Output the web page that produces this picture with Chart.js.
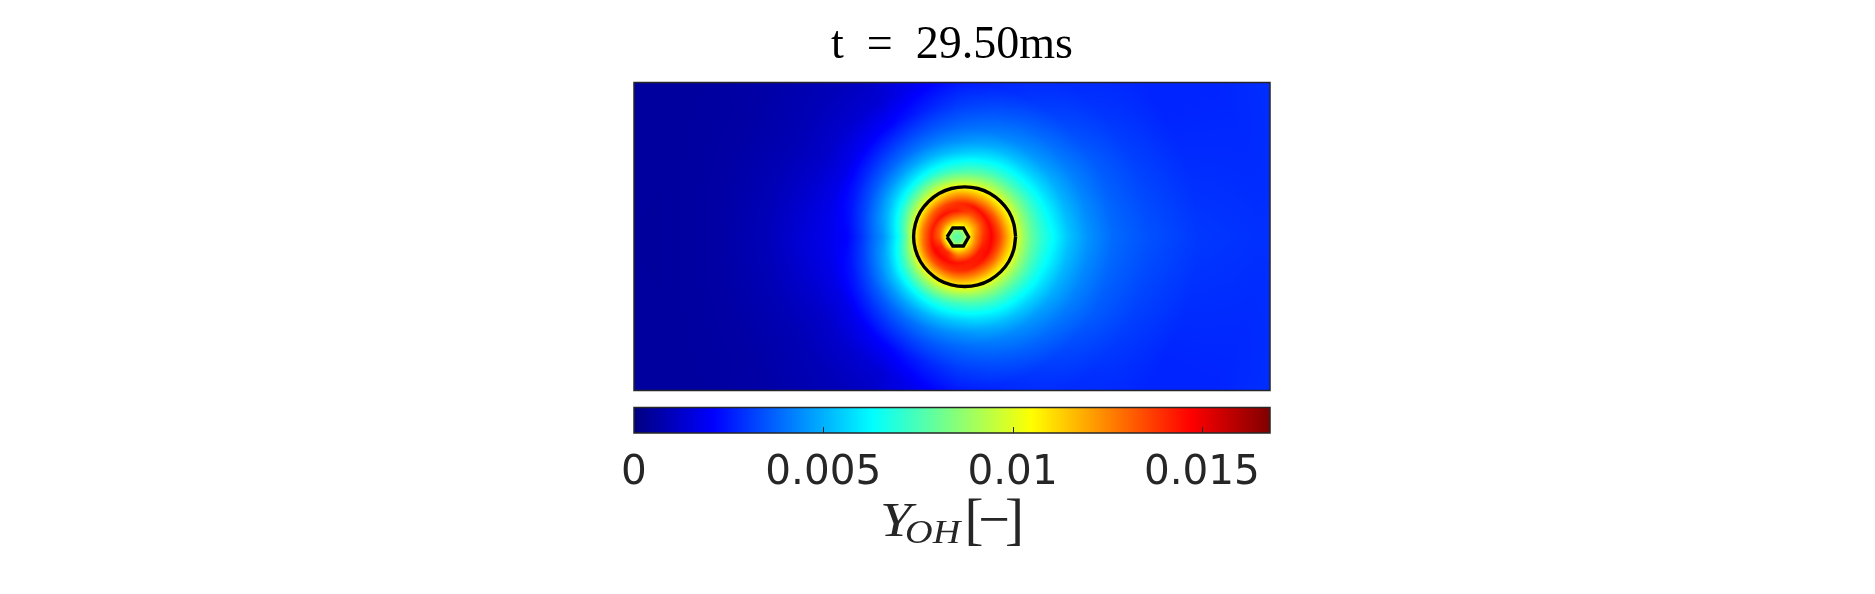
<!DOCTYPE html>
<html>
<head>
<meta charset="utf-8">
<title>Y_OH field</title>
<script src="https://cdn.jsdelivr.net/npm/chart.js@4"></script>
<style>
html, body { margin: 0; padding: 0; background: #fff; }
canvas { display: block; }
</style>
</head>
<body>
<canvas id="field-chart" width="1875" height="594"></canvas>
<script>
const titleText = "t = 29.50ms";
const barTicks = [0, 0.005, 0.01, 0.015];
const barTickLabels = ["0", "0.005", "0.01", "0.015"];
const barMax = 0.0168;

// domain size in mm
const domainX = 31.8;
const domainY = 15.4;

// flame front and inner contour, mm
const flameX = [19.08, 18.99, 18.74, 18.33, 17.80, 17.19, 16.53, 15.87, 15.25, 14.73, 14.32, 14.07, 13.98, 14.07, 14.32, 14.73, 15.25, 15.87, 16.53, 17.19, 17.80, 18.33, 18.74, 18.99, 19.08];
const flameY = [7.69, 8.33, 8.94, 9.45, 9.85, 10.10, 10.18, 10.10, 9.85, 9.45, 8.94, 8.33, 7.69, 7.05, 6.45, 5.93, 5.53, 5.28, 5.20, 5.28, 5.53, 5.93, 6.45, 7.05, 7.69];
const coreX = [15.65, 15.94, 16.47, 16.73, 16.47, 15.94, 15.65];
const coreY = [7.675, 8.125, 8.125, 7.675, 7.225, 7.225, 7.675];

const rayOriginX = 16.175;
const rayOriginY = 7.675;
const rayRadii = [0, 0.3, 0.55, 0.9, 1.3, 1.7, 2.1, 2.5, 2.9, 3.3, 3.7, 4.2, 4.8, 5.5, 6.5, 7.75, 9.5, 12, 15, 18];
const ray000 = [7.56, 8.40, 10.42, 12.40, 13.90, 14.70, 13.60, 11.90, 10.25, 8.90, 7.90, 7.06, 6.30, 5.38, 4.54, 3.86, 3.44, 3.02, 2.89, 2.89];
const ray030 = [7.56, 8.40, 10.42, 11.80, 13.40, 14.60, 13.20, 11.40, 10.00, 8.74, 7.73, 6.72, 5.80, 4.96, 4.20, 3.61, 3.11, 2.69, 2.69, 2.89];
const ray060 = [7.56, 8.40, 10.42, 11.80, 13.40, 14.45, 12.60, 10.90, 9.41, 8.23, 7.22, 6.22, 5.21, 4.37, 3.70, 3.02, 2.69, 2.69, 2.77, 2.86];
const ray090 = [7.56, 8.40, 10.42, 12.40, 14.20, 13.90, 12.20, 10.40, 8.74, 7.39, 6.47, 5.38, 4.45, 3.78, 3.11, 2.44, 2.35, 2.35, 2.35, 2.35];
const ray120 = [7.56, 8.40, 10.42, 12.60, 14.45, 13.40, 11.40, 9.70, 8.23, 6.89, 5.88, 4.87, 3.95, 3.19, 2.18, 1.40, 1.00, 0.80, 0.70, 0.65];
const ray150 = [7.56, 8.40, 10.42, 12.77, 14.30, 12.90, 10.90, 9.07, 7.56, 6.30, 5.38, 4.45, 3.53, 2.69, 1.70, 1.20, 0.85, 0.60, 0.52, 0.52];
const ray180 = [7.56, 8.40, 10.42, 13.10, 14.30, 12.80, 10.70, 8.23, 6.55, 5.46, 4.54, 3.86, 2.94, 2.10, 1.75, 1.45, 0.95, 0.60, 0.48, 0.52];
const ray210 = [7.56, 8.40, 10.42, 14.00, 14.70, 13.20, 11.10, 9.07, 7.56, 6.38, 5.38, 4.45, 3.53, 2.69, 1.70, 1.20, 0.85, 0.60, 0.52, 0.52];
const ray240 = [7.56, 8.40, 10.42, 14.00, 14.62, 13.50, 11.50, 9.70, 8.23, 6.89, 5.88, 4.87, 3.95, 3.19, 2.18, 1.40, 1.00, 0.80, 0.70, 0.65];
const ray270 = [7.56, 8.40, 10.42, 12.60, 14.45, 13.90, 12.20, 10.40, 8.74, 7.39, 6.47, 5.38, 4.45, 3.78, 3.11, 2.44, 2.35, 2.35, 2.35, 2.35];
const ray300 = [7.56, 8.40, 10.42, 12.40, 14.28, 14.20, 12.60, 10.90, 9.41, 8.23, 7.22, 6.22, 5.21, 4.37, 3.70, 3.02, 2.69, 2.69, 2.77, 2.86];
const ray330 = [7.56, 8.40, 10.42, 12.40, 14.28, 14.60, 13.20, 11.40, 10.00, 8.74, 7.73, 6.72, 5.80, 4.96, 4.20, 3.61, 3.11, 2.69, 2.69, 2.89];
const rays = [ray000, ray030, ray060, ray090, ray120, ray150, ray180, ray210, ray240, ray270, ray300, ray330];

function toPoints(xs, ys) {
    return xs.map((x, i) => ({ x: x, y: ys[i] }));
}

function clamp01(v) {
    return Math.max(0, Math.min(1, v));
}

// MATLAB jet
function jet(v) {
    const t = clamp01(v / barMax);
    return [
        255 * clamp01(1.5 - Math.abs(4 * t - 3)),
        255 * clamp01(1.5 - Math.abs(4 * t - 2)),
        255 * clamp01(1.5 - Math.abs(4 * t - 1)),
    ];
}

// shading between the rays, like pcolor with shading interp
function fieldAt(x, y) {
    const dx = x - rayOriginX;
    const dy = y - rayOriginY;
    const r = Math.min(Math.hypot(dx, dy), rayRadii[rayRadii.length - 1] - 1e-6);
    let angle = Math.atan2(dy, dx) * 180 / Math.PI;
    if (angle < 0) angle += 360;
    const a0 = Math.floor(angle / 30) % 12;
    const a1 = (a0 + 1) % 12;
    const fa = angle / 30 - Math.floor(angle / 30);
    let j = 0;
    while (rayRadii[j + 1] <= r) j++;
    const fr = (r - rayRadii[j]) / (rayRadii[j + 1] - rayRadii[j]);
    const v0 = rays[a0][j] + (rays[a0][j + 1] - rays[a0][j]) * fr;
    const v1 = rays[a1][j] + (rays[a1][j + 1] - rays[a1][j]) * fr;
    return (v0 + (v1 - v0) * fa) * 1e-3;
}

const barTop = 407.5;
const barBottom = 433;
const inkColor = "#262626";

// stretched a little since Computer Modern is wider than Liberation Serif
function labelText(ctx, text, font, x, y, stretch) {
    ctx.save();
    ctx.translate(x, y);
    ctx.scale(stretch, 1);
    ctx.font = font;
    ctx.fillText(text, 0, 0);
    ctx.restore();
}

const fieldPlugin = {
    id: "fieldPlugin",
    beforeDraw(chart) {
        // the title has wide spaces around the equals sign
        chart.ctx.wordSpacing = "11.5px";
    },
    beforeDatasetsDraw(chart) {
        const ctx = chart.ctx;
        const { x: xScale, y: yScale, cb } = chart.scales;
        const area = chart.chartArea;
        const left = Math.round(area.left);
        const top = Math.round(area.top);
        const w = Math.round(area.right) - left;
        const h = Math.round(area.bottom) - top;
        const img = ctx.createImageData(w, h);
        for (let j = 0; j < h; j++) {
            const dataY = yScale.getValueForPixel(top + j + 0.5);
            for (let i = 0; i < w; i++) {
                const c = jet(fieldAt(xScale.getValueForPixel(left + i + 0.5), dataY));
                const k = (j * w + i) * 4;
                img.data[k] = c[0];
                img.data[k + 1] = c[1];
                img.data[k + 2] = c[2];
                img.data[k + 3] = 255;
            }
        }
        ctx.putImageData(img, left, top);

        // colour bar
        for (let px = Math.round(cb.left); px < Math.round(cb.right); px++) {
            const c = jet(cb.getValueForPixel(px + 0.5));
            ctx.fillStyle = `rgb(${c[0]},${c[1]},${c[2]})`;
            ctx.fillRect(px, barTop, 1, barBottom - barTop);
        }
    },
    afterDatasetsDraw(chart) {
        const ctx = chart.ctx;
        const area = chart.chartArea;
        const cb = chart.scales.cb;
        ctx.save();
        ctx.strokeStyle = inkColor;
        ctx.lineWidth = 1.5;
        ctx.strokeRect(area.left, area.top, area.right - area.left, area.bottom - area.top);
        ctx.strokeRect(cb.left, barTop, cb.right - cb.left, barBottom - barTop);
        ctx.lineWidth = 1;
        barTicks.slice(1).forEach(v => {
            const px = Math.round(cb.getPixelForValue(v)) + 0.5;
            ctx.beginPath();
            ctx.moveTo(px, barBottom);
            ctx.lineTo(px, barBottom - 6);
            ctx.stroke();
        });

        // bar label with subscript
        ctx.fillStyle = inkColor;
        ctx.textBaseline = "alphabetic";
        ctx.textAlign = "left";
        labelText(ctx, "Y", "italic 48px 'Liberation Serif'", 880, 535.7, 1.18);
        labelText(ctx, "OH", "italic 33px 'Liberation Serif'", 905, 542.7, 1.16);
        labelText(ctx, "[", "57px 'Liberation Serif'", 964.5, 538, 1);
        labelText(ctx, "−", "56px 'Liberation Serif'", 978.3, 538, 1);
        labelText(ctx, "]", "57px 'Liberation Serif'", 1005, 538, 1);
        ctx.restore();
    },
};

new Chart(document.getElementById("field-chart").getContext("2d"), {
    type: "scatter",
    data: {
        datasets: [
            {
                label: "flame",
                data: toPoints(flameX, flameY),
                showLine: true,
                tension: 0.3,
                borderColor: "#000",
                borderWidth: 3.4,
                pointRadius: 0,
            },
            {
                label: "core",
                data: toPoints(coreX, coreY),
                showLine: true,
                borderColor: "#000",
                borderWidth: 3.4,
                pointRadius: 0,
            },
        ],
    },
    options: {
        responsive: false,
        animation: false,
        devicePixelRatio: 1,
        layout: { padding: { left: 634, right: 605, top: 0, bottom: 0 } },
        plugins: {
            legend: { display: false },
            tooltip: { enabled: false },
            title: {
                display: true,
                text: titleText,
                color: "#000",
                fullSize: false,
                font: { family: "'Liberation Serif'", size: 46, weight: "normal" },
                padding: { top: 18.4, bottom: 8.9 },
            },
        },
        scales: {
            x: { type: "linear", min: 0, max: domainX, display: false },
            y: { type: "linear", min: 0, max: domainY, display: false },
            cb: {
                type: "linear",
                axis: "x",
                position: "bottom",
                min: 0,
                max: barMax,
                afterFit(scale) { scale.height = 203.5; },
                afterBuildTicks(scale) { scale.ticks = barTicks.map(v => ({ value: v })); },
                border: { display: false },
                grid: { display: false, drawTicks: false },
                ticks: {
                    autoSkip: false,
                    maxRotation: 0,
                    padding: 59,
                    color: inkColor,
                    font: { family: "'DejaVu Sans'", size: 40.5 },
                    callback: (v) => barTickLabels[barTicks.indexOf(v)],
                },
            },
        },
    },
    plugins: [fieldPlugin],
});
</script>
</body>
</html>
